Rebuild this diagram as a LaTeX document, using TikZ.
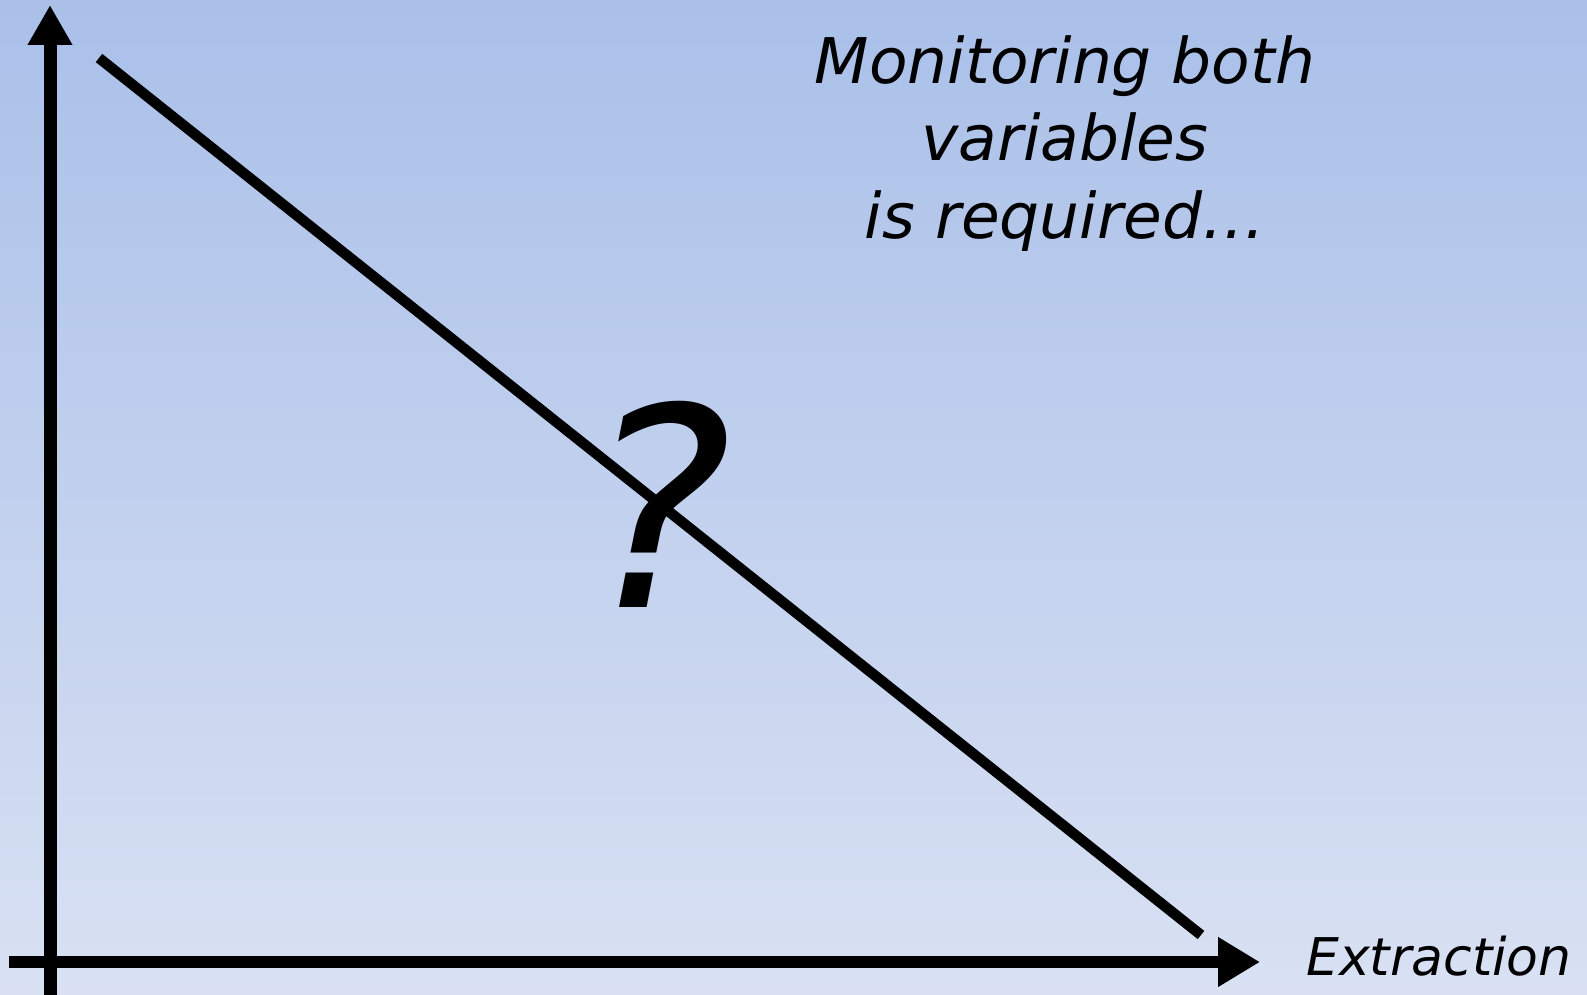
\documentclass[tikz,border=0pt]{standalone}
\usepackage{fontspec}
\setmainfont{DejaVu Sans}
\usetikzlibrary{arrows.meta}
\definecolor{bgtop}{RGB}{170,192,233}
\definecolor{bgbot}{RGB}{217,225,243}
\tikzset{
  axis/.style={line width=13pt,draw=black},
  lbl/.style={font=\fontsize{63}{77}\selectfont\itshape,inner sep=0pt,anchor=base},
}
\begin{document}
\begin{tikzpicture}[x=1pt,y=-1pt]
\useasboundingbox (0,0) rectangle (1587,995);
\shade[top color=bgtop,bottom color=bgbot] (0,0) rectangle (1587,995);
\clip (0,0) rectangle (1587,995);
\coordinate (ybot) at (50,1005);
\coordinate (ytop) at (50,5);
\coordinate (xleft) at (9,962);
\coordinate (xright) at (1260,962);
\coordinate (ds) at (99,58);
\coordinate (de) at (1201,935);
\draw[axis,-{Triangle[length=40pt,width=42pt]}] (ybot) -- (ytop);
\draw[axis,line width=12pt,-{Triangle[length=42pt,width=47pt]}] (xleft) -- (xright);
\draw[line width=10.5pt] (ds) -- (de);
\node[inner sep=0pt,anchor=base,font=\fontsize{278}{278}\selectfont\itshape] (q) at (658,607) {?};
\node[lbl] (t1) at (1065,84) {Monitoring both};
\node[lbl] (t2) at (1065,161) {variables};
\node[lbl] (t3) at (1065,238) {is required…};
\node[lbl,font=\fontsize{52}{60}\selectfont\itshape,anchor=base west] (ex) at (1306,975) {Extraction};
\end{tikzpicture}
\end{document}
